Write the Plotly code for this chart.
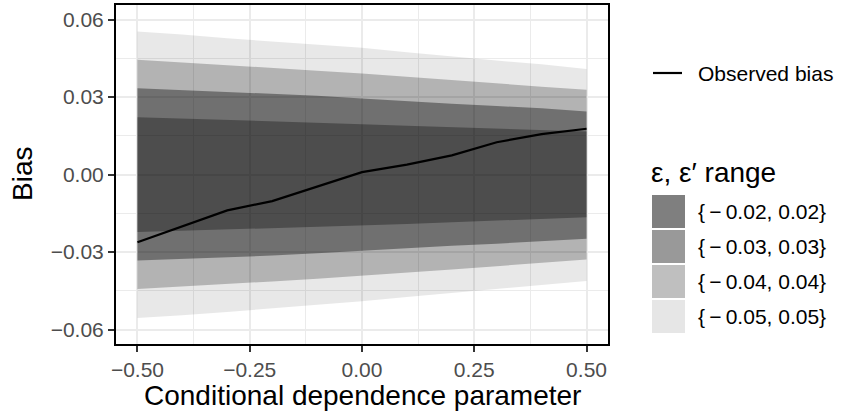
import plotly.graph_objects as go

# ---------------- data ----------------
x_vals = [-0.5, -0.4, -0.3, -0.2, -0.1, 0.0, 0.1, 0.2, 0.3, 0.4, 0.5]
observed_bias = [-0.0262, -0.0201, -0.0139, -0.0103, -0.0048, 0.0009, 0.0038, 0.0074, 0.0125, 0.0156, 0.0177]

eps_labels = ["{\u2009\u2212\u20090.02, 0.02}", "{\u2009\u2212\u20090.03, 0.03}",
              "{\u2009\u2212\u20090.04, 0.04}", "{\u2009\u2212\u20090.05, 0.05}"]

upper_002 = [0.0222, 0.0217, 0.0212, 0.0207, 0.0201, 0.0195, 0.0189, 0.0183, 0.0177, 0.0172, 0.0166]
lower_002 = [-0.0223, -0.0218, -0.0213, -0.0208, -0.0203, -0.0197, -0.0192, -0.0185, -0.0178, -0.0172, -0.0165]
upper_003 = [0.0334, 0.0327, 0.0319, 0.0312, 0.0305, 0.0294, 0.0283, 0.0274, 0.0265, 0.0256, 0.0244]
lower_003 = [-0.0333, -0.0327, -0.0320, -0.0314, -0.0305, -0.0295, -0.0284, -0.0276, -0.0268, -0.0259, -0.0249]
upper_004 = [0.0444, 0.0434, 0.0422, 0.0412, 0.0402, 0.0391, 0.0378, 0.0364, 0.0352, 0.0340, 0.0328]
lower_004 = [-0.0443, -0.0434, -0.0424, -0.0414, -0.0404, -0.0393, -0.0381, -0.0368, -0.0355, -0.0343, -0.0329]
upper_005 = [0.0554, 0.0542, 0.0527, 0.0515, 0.0503, 0.0491, 0.0473, 0.0456, 0.0441, 0.0427, 0.0408]
lower_005 = [-0.0555, -0.0545, -0.0532, -0.0519, -0.0506, -0.0491, -0.0474, -0.0459, -0.0444, -0.0429, -0.0412]

x_ticks = [-0.5, -0.25, 0.0, 0.25, 0.5]
y_ticks = [-0.06, -0.03, 0.0, 0.03, 0.06]

# ---------------- styles ----------------
FONT = "Liberation Sans, Arial, Helvetica, sans-serif"
W, H = 847, 417
L, R, T, B = 115, 238, 4, 72
PW, PH = W - L - R, H - T - B

ribbon_fill = ["rgba(0,0,0,0.3125)", "rgba(0,0,0,0.374)", "rgba(0,0,0,0.228)", "rgba(0,0,0,0.09)"]
key_colors = ["#7f7f7f", "#999999", "#bfbfbf", "#e6e6e6"]


def px(xp):
    return (xp - L) / PW


def py(yp):
    return (H - B - yp) / PH


fig = go.Figure()

bands = [(upper_005, lower_005, 3), (upper_004, lower_004, 2),
         (upper_003, lower_003, 1), (upper_002, lower_002, 0)]
for up, lo, k in bands:
    fig.add_trace(go.Scatter(x=x_vals, y=lo, mode="lines", line=dict(width=0),
                             showlegend=False, hoverinfo="skip"))
    fig.add_trace(go.Scatter(x=x_vals, y=up, mode="lines", line=dict(width=0),
                             fill="tonexty", fillcolor=ribbon_fill[k],
                             name=eps_labels[k], showlegend=False))

fig.add_trace(go.Scatter(x=x_vals, y=observed_bias, mode="lines",
                         line=dict(color="black", width=2.2),
                         name="Observed bias", showlegend=False))

axis_common = dict(
    showgrid=True, gridcolor="#ebebeb", gridwidth=2,
    zeroline=False, showline=False,
    ticks="outside", ticklen=6, tickwidth=2, tickcolor="#333333",
    tickfont=dict(family=FONT, size=21, color="#4d4d4d"),
    tickformat=".2f",
)

fig.update_xaxes(range=[-0.55, 0.55], tickvals=x_ticks,
                 minor=dict(tickvals=[-0.375, -0.125, 0.125, 0.375], showgrid=True,
                            gridcolor="#ebebeb", gridwidth=1.2, ticklen=0),
                 **axis_common)
fig.update_yaxes(range=[-0.066, 0.066], tickvals=y_ticks,
                 minor=dict(tickvals=[-0.045, -0.015, 0.015, 0.045], showgrid=True,
                            gridcolor="#ebebeb", gridwidth=1.2, ticklen=0),
                 **axis_common)

shapes = [dict(type="rect", xref="paper", yref="paper", x0=0, x1=1, y0=0, y1=1,
               line=dict(color="black", width=2), fillcolor="rgba(0,0,0,0)", layer="above")]
annotations = [
    dict(text="Conditional dependence parameter", xref="paper", yref="paper",
         x=0.5, y=py(395), xanchor="center", yanchor="middle", showarrow=False,
         font=dict(family=FONT, size=28, color="black")),
    dict(text="Bias", xref="paper", yref="paper", x=px(22), y=py(174), textangle=-90,
         xanchor="center", yanchor="middle", showarrow=False,
         font=dict(family=FONT, size=28, color="black")),
]

# legend: observed bias line
shapes.append(dict(type="line", xref="paper", yref="paper", x0=px(653), x1=px(682),
                   y0=py(73), y1=py(73), line=dict(color="black", width=2.2)))
annotations.append(dict(text="Observed bias", xref="paper", yref="paper", x=px(696), y=py(73),
                        xanchor="left", yanchor="middle", showarrow=False,
                        font=dict(family=FONT, size=21, color="black")))
# legend: fill ranges
annotations.append(dict(text="\u03b5, \u03b5\u2032 range", xref="paper", yref="paper",
                        x=px(649), y=py(172), xanchor="left", yanchor="middle", showarrow=False,
                        font=dict(family=FONT, size=28, color="black")))
key_top = 195
for i in range(4):
    y0 = key_top + i * 35
    shapes.append(dict(type="rect", xref="paper", yref="paper", x0=px(652), x1=px(685),
                       y0=py(y0 + 33), y1=py(y0), line=dict(width=0), fillcolor=key_colors[i]))
    annotations.append(dict(text=eps_labels[i], xref="paper", yref="paper", x=px(696),
                            y=py(y0 + 16.5), xanchor="left", yanchor="middle", showarrow=False,
                            font=dict(family=FONT, size=21, color="black")))

fig.update_layout(
    width=W, height=H, autosize=False,
    margin=dict(l=L, r=R, t=T, b=B, pad=0),
    paper_bgcolor="white", plot_bgcolor="white",
    showlegend=False, shapes=shapes, annotations=annotations,
)

fig.write_html("out.html")
